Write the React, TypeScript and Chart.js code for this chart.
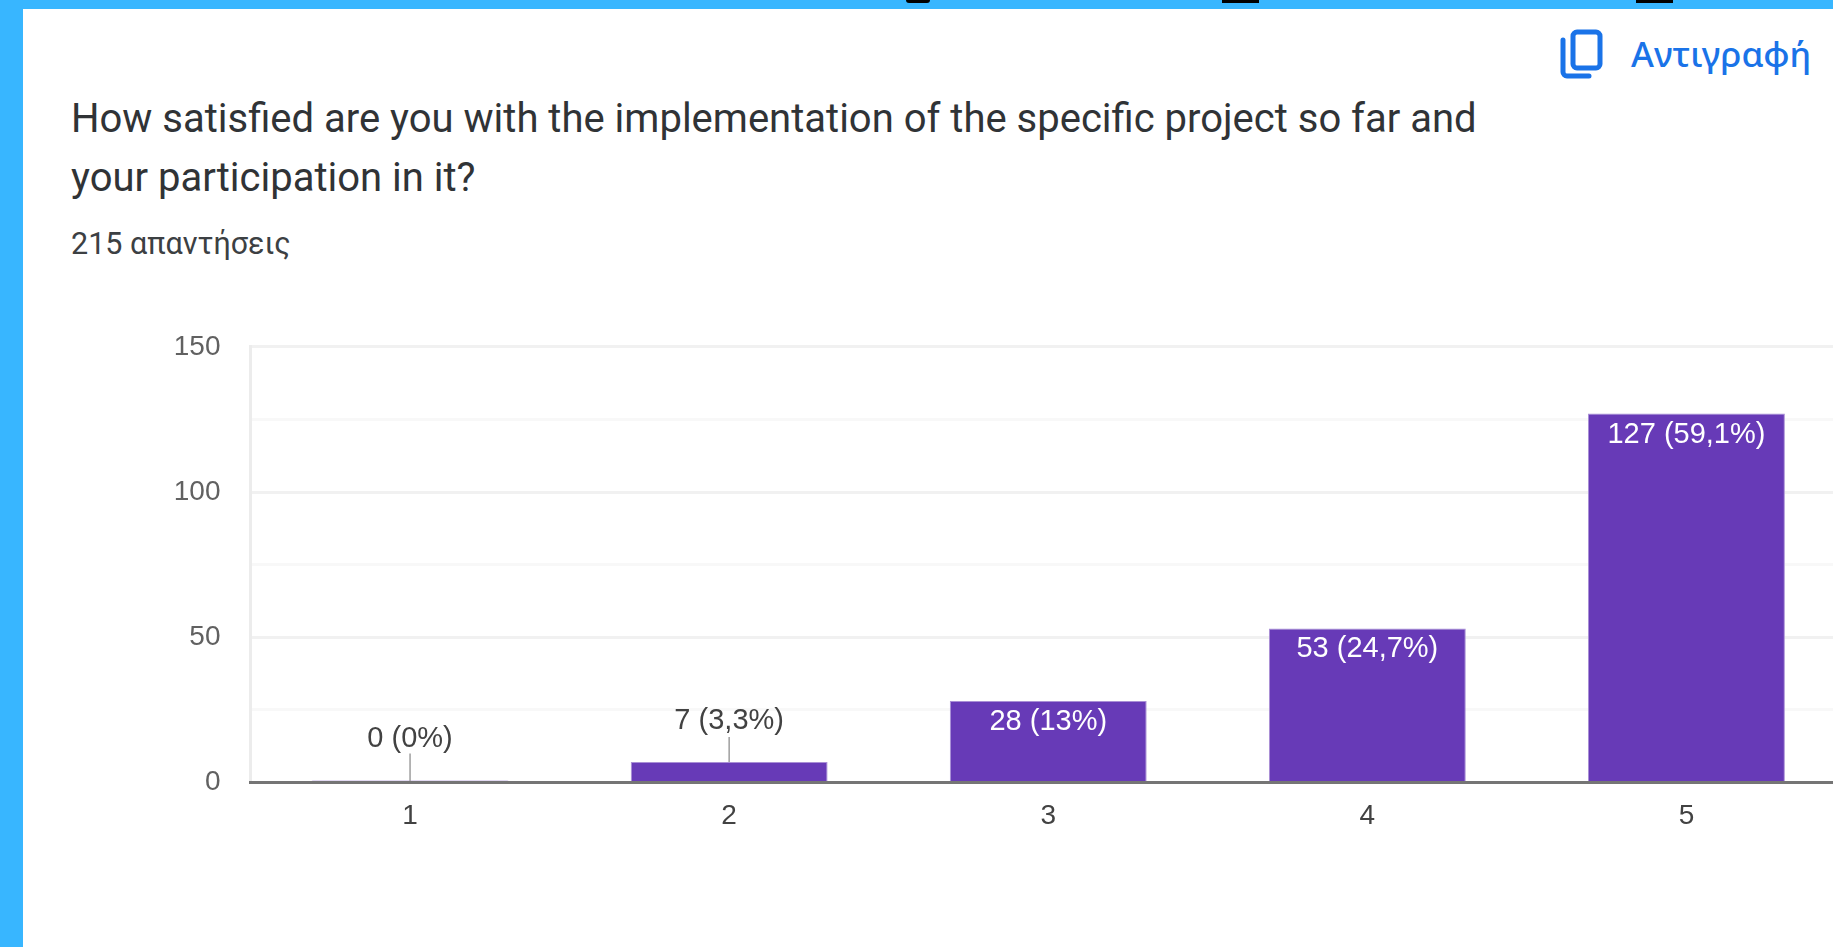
import React, { useEffect, useRef } from "react";
import { Chart, registerables } from "chart.js";

Chart.register(...registerables);

const categories = ["1", "2", "3", "4", "5"];
const responses = [0, 7, 28, 53, 127];
const valueLabels = ["0 (0%)", "7 (3,3%)", "28 (13%)", "53 (24,7%)", "127 (59,1%)"];
const titleLines = [
  "How satisfied are you with the implementation of the specific project so far and",
  "your participation in it?",
];
const subtitle = "215 απαντήσεις";
const copyLabel = "Αντιγραφή";

const tickFont = '"Liberation Sans", Arial, sans-serif';

const valueLabelPlugin = {
  id: "valueLabels",
  afterDatasetsDraw(chart: any) {
    const { ctx, scales } = chart;
    const meta = chart.getDatasetMeta(0);
    ctx.save();
    ctx.font = `29px ${tickFont}`;
    ctx.textAlign = "center";
    ctx.textBaseline = "middle";
    meta.data.forEach((bar: any, i: number) => {
      const v = responses[i];
      const x = bar.x;
      const y = scales.y.getPixelForValue(v);
      if (v >= 20) {
        ctx.fillStyle = "#ffffff";
        ctx.fillText(valueLabels[i], x, y + 21);
      } else {
        ctx.strokeStyle = "#9e9e9e";
        ctx.lineWidth = 1.5;
        ctx.beginPath();
        ctx.moveTo(x, y);
        ctx.lineTo(x, y - (v === 0 ? 29 : 25));
        ctx.stroke();
        ctx.fillStyle = "#424242";
        ctx.fillText(valueLabels[i], x, y - (v === 0 ? 43 : 41));
      }
    });
    ctx.restore();
  },
};

export default function App() {
  const ref = useRef<HTMLCanvasElement>(null);
  useEffect(() => {
    const chart = new Chart(ref.current!, {
      type: "bar",
      data: {
        labels: categories,
        datasets: [
          {
            data: responses,
            backgroundColor: "#673ab7",
            borderColor: "#a98fd6",
            borderWidth: 1,
            minBarLength: 2,
            categoryPercentage: 0.617,
            barPercentage: 1,
          },
        ],
      },
      options: {
        animation: false,
        responsive: false,
        maintainAspectRatio: false,
        layout: { padding: { left: 0, right: 0, top: 0, bottom: 0 } },
        plugins: { legend: { display: false }, tooltip: { enabled: false } },
        scales: {
          x: {
            grid: { display: false },
            border: { color: "#757575", width: 3, z: 1 },
            ticks: { color: "#424242", font: { family: tickFont, size: 28 }, padding: 9 },
          },
          y: {
            min: 0,
            max: 150,
            afterFit(s: any) {
              s.width = 219.5;
            },
            grid: {
              color: (c: any) => (c.tick.value % 50 === 0 ? "#f1f1f1" : "#f8f8f8"),
              lineWidth: 3,
              drawTicks: false,
            },
            border: { color: "#ececec", width: 3 },
            ticks: {
              stepSize: 25,
              color: "#616161",
              font: { family: tickFont, size: 28 },
              padding: 30,
              callback: (v: any) => (v % 50 === 0 ? String(v) : ""),
            },
          },
        },
      },
      plugins: [valueLabelPlugin],
    });
    return () => chart.destroy();
  }, []);

  return (
    <div style={{ position: "fixed", left: 0, top: 0, width: 1833, height: 947, overflow: "hidden", background: "#38b6ff", filter: "blur(0.4px)" }}>
      <div style={{ position: "absolute", left: 906, top: 0, width: 24, height: 3, background: "#000", borderRadius: "0 0 12px 12px" }} />
      <div style={{ position: "absolute", left: 1222, top: 0, width: 37, height: 3, background: "#000" }} />
      <div style={{ position: "absolute", left: 1636, top: 0, width: 37, height: 3, background: "#000" }} />
      <div style={{ position: "absolute", left: 23, top: 9, right: 0, bottom: 0, background: "#ffffff" }} />
      <div style={{ position: "absolute", left: 71, top: 89, fontFamily: "Roboto, sans-serif", fontSize: 40, lineHeight: "59px", color: "#303336", whiteSpace: "nowrap" }}>
        {titleLines.map((t) => (
          <div key={t}>{t}</div>
        ))}
      </div>
      <div style={{ position: "absolute", left: 71, top: 226, fontFamily: "Roboto, sans-serif", fontSize: 30.5, lineHeight: "36px", color: "#3c4043", whiteSpace: "nowrap" }}>
        {subtitle}
      </div>
      <svg style={{ position: "absolute", left: 1559, top: 26 }} width="52" height="56" viewBox="0 0 52 56">
        <path d="M4 14 V46 a4 4 0 0 0 4 4 H30" fill="none" stroke="#1a73e8" strokeWidth="5" strokeLinecap="round" />
        <rect x="14" y="6" width="27" height="36" rx="4" fill="none" stroke="#1a73e8" strokeWidth="5" />
      </svg>
      <div style={{ position: "absolute", left: 1631, top: 34, fontFamily: '"Noto Sans", sans-serif', fontSize: 35, fontWeight: 500, lineHeight: "40px", color: "#1a73e8", whiteSpace: "nowrap" }}>
        {copyLabel}
      </div>
      <canvas ref={ref} width={1815} height={542} style={{ position: "absolute", left: 31, top: 300, width: 1815, height: 542 }} />
    </div>
  );
}
